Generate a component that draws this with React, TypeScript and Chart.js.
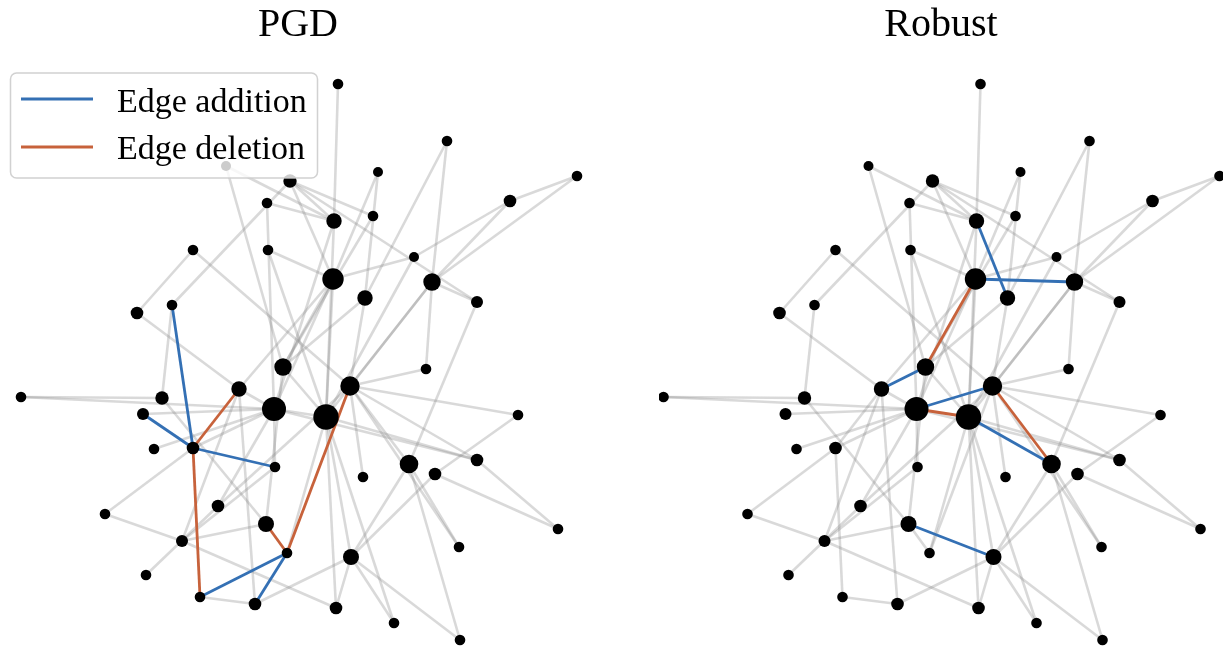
import React, { useEffect, useRef } from 'react';
import { Chart, registerables } from 'chart.js';

Chart.register(...registerables);

// Node layout (shared by both panels)
const nodeX = [338, 447, 226, 378, 577, 290, 510, 267, 334, 373, 193, 268, 414, 333, 432, 365, 477, 172, 137, 283, 426, 350, 239, 21, 162, 274, 143, 326, 518, 193, 154, 409, 477, 275, 435, 363, 105, 218, 266, 558, 182, 459, 287, 351, 146, 336, 200, 255, 394, 460];
const nodeY = [84, 141, 166, 172, 176, 181, 201, 203, 221, 216, 250, 250, 257, 279, 282, 298, 302, 305, 313, 367, 369, 386, 389, 397, 398, 409, 414, 417, 415, 448, 449, 464, 460, 467, 474, 477, 514, 506, 524, 529, 541, 547, 553, 557, 575, 608, 597, 604, 623, 640];
const nodeRadius = [5.3, 5.3, 5, 5, 5.3, 6.7, 6.3, 5.3, 7.7, 5.3, 5.3, 5.3, 5, 10.7, 8.7, 7.7, 6, 5.3, 6.3, 8.7, 5.3, 9.7, 7.7, 5.3, 6.7, 12, 6, 12.7, 5.3, 6.3, 5.3, 9.3, 6.3, 5.3, 6.3, 5.3, 5.3, 6.3, 8, 5.3, 6, 5.3, 5.3, 8, 5.3, 6.3, 5.3, 6.3, 5.3, 5.3];

// Clean graph edges
const cleanEdges = [
  [0, 8], [1, 14], [14, 20], [1, 15], [2, 8], [2, 19], [3, 13], [3, 15], [4, 6], [4, 14],
  [5, 17], [5, 9], [5, 8], [5, 16], [5, 13], [6, 12], [6, 14], [7, 8], [7, 25], [9, 19],
  [10, 18], [10, 21], [11, 13], [11, 27], [12, 13], [12, 27], [14, 16], [14, 21], [14, 27],
  [15, 21], [15, 19], [16, 31], [17, 24], [18, 22],
  [22, 29], [29, 46], [38, 42], [21, 42], [13, 19], [25, 27], [21, 31],
  [23, 24], [23, 25], [24, 38], [25, 26], [25, 30], [25, 29], [29, 36], [36, 40], [38, 40],
  [37, 44], [21, 37], [25, 37], [46, 47], [22, 47], [43, 47], [27, 42],
  [20, 21], [21, 28], [21, 32], [21, 35], [21, 41], [27, 43], [27, 48], [43, 48], [43, 49],
  [43, 45], [27, 45], [40, 45], [31, 49], [31, 41], [31, 43], [32, 39], [34, 39], [28, 34], [34, 43],
  [27, 32], [8, 25], [8, 27], [13, 25], [13, 27], [13, 22], [19, 27], [19, 38], [22, 25], [25, 33],
  [25, 32], [22, 40], [33, 40],
];

// Perturbations
const pgdAdded = [[17, 29], [26, 29], [29, 33], [42, 46], [42, 47]];
const pgdDeleted = [[22, 29], [29, 46], [38, 42], [21, 42]];
const robustAdded = [[8, 15], [13, 14], [19, 22], [21, 25], [27, 31], [38, 43]];
const robustDeleted = [[13, 19], [25, 27], [21, 31]];

const panelTitles = ['PGD', 'Robust'];
const legendLabels = ['Edge addition', 'Edge deletion'];

const GRAY = 'rgba(128,128,128,0.3)';
const BLUE = '#3470b4';
const ORANGE = '#c7623b';
const SERIF = '"Liberation Serif", "Times New Roman", serif';

const key = (a: number, b: number) => (a < b ? `${a}-${b}` : `${b}-${a}`);

function buildDatasets(added: number[][], deleted: number[][]) {
  const del = new Set(deleted.map(([a, b]) => key(a, b)));
  const seg = (a: number, b: number) => [
    { x: nodeX[a], y: nodeY[a] },
    { x: nodeX[b], y: nodeY[b] },
  ];
  const ds: any[] = [];
  cleanEdges
    .filter(([a, b]) => !del.has(key(a, b)))
    .forEach(([a, b]) =>
      ds.push({ data: seg(a, b), showLine: true, borderColor: GRAY, borderWidth: 2.6, pointRadius: 0, order: 3, clip: false })
    );
  added.forEach(([a, b]) =>
    ds.push({ label: legendLabels[0], data: seg(a, b), showLine: true, borderColor: BLUE, borderWidth: 2.8, pointRadius: 0, order: 2, clip: false })
  );
  deleted.forEach(([a, b]) =>
    ds.push({ label: legendLabels[1], data: seg(a, b), showLine: true, borderColor: ORANGE, borderWidth: 2.8, pointRadius: 0, order: 2, clip: false })
  );
  ds.push({
    data: nodeX.map((x, i) => ({ x, y: nodeY[i] })),
    pointRadius: nodeRadius,
    pointBackgroundColor: '#000',
    pointBorderWidth: 0,
    backgroundColor: '#000',
    borderColor: '#000',
    order: 1,
    clip: false,
  });
  return ds;
}

const legendPlugin = {
  id: 'edgeLegend',
  afterDraw(chart: any) {
    const ctx = chart.ctx;
    ctx.save();
    const x = 10.5, y = 73, w = 307, h = 105, r = 6;
    ctx.beginPath();
    ctx.moveTo(x + r, y);
    ctx.lineTo(x + w - r, y);
    ctx.arcTo(x + w, y, x + w, y + r, r);
    ctx.lineTo(x + w, y + h - r);
    ctx.arcTo(x + w, y + h, x + w - r, y + h, r);
    ctx.lineTo(x + r, y + h);
    ctx.arcTo(x, y + h, x, y + h - r, r);
    ctx.lineTo(x, y + r);
    ctx.arcTo(x, y, x + r, y, r);
    ctx.closePath();
    ctx.fillStyle = 'rgba(255,255,255,0.8)';
    ctx.fill();
    ctx.strokeStyle = 'rgba(204,204,204,0.9)';
    ctx.lineWidth = 1.5;
    ctx.stroke();
    const colors = [BLUE, ORANGE];
    const lineY = [99, 147];
    const textY = [112, 159];
    legendLabels.forEach((label, i) => {
      ctx.beginPath();
      ctx.moveTo(21, lineY[i]);
      ctx.lineTo(93, lineY[i]);
      ctx.strokeStyle = colors[i];
      ctx.lineWidth = 3;
      ctx.stroke();
      ctx.fillStyle = '#000';
      ctx.font = `34px ${SERIF}`;
      ctx.textBaseline = 'alphabetic';
      ctx.textAlign = 'left';
      ctx.fillText(label, 117, textY[i]);
    });
    ctx.restore();
  },
};

function Panel(props: { title: string; added: number[][]; deleted: number[][]; left: number; width: number; xMin: number; legend: boolean }) {
  const ref = useRef<HTMLCanvasElement>(null);
  useEffect(() => {
    const canvas = ref.current;
    if (!canvas) return;
    const chart = new Chart(canvas, {
      type: 'scatter',
      data: { datasets: buildDatasets(props.added, props.deleted) },
      options: {
        responsive: false,
        animation: false,
        events: [],
        layout: { padding: 0, autoPadding: false },
        scales: {
          x: { type: 'linear', display: false, min: props.xMin, max: props.xMin + props.width },
          y: { type: 'linear', display: false, min: 56, max: 647, reverse: true },
        },
        plugins: {
          legend: { display: false },
          tooltip: { enabled: false },
          title: {
            display: true,
            text: props.title,
            color: '#000',
            font: { family: SERIF, size: 40, weight: 'normal' },
            padding: { top: 1, bottom: 7 },
          },
        },
      },
      plugins: props.legend ? [legendPlugin] : [],
    } as any);
    return () => chart.destroy();
  }, []);
  return (
    <canvas
      ref={ref}
      width={props.width}
      height={647}
      style={{ position: 'absolute', left: props.left, top: 0, width: props.width, height: 647, display: 'block' }}
    />
  );
}

export default function App() {
  return (
    <div style={{ position: 'absolute', left: 0, top: 0, width: 1223, height: 647, background: '#fff', overflow: 'hidden' }}>
      <Panel title={panelTitles[0]} added={pgdAdded} deleted={pgdDeleted} left={0} width={596} xMin={0} legend={true} />
      <Panel title={panelTitles[1]} added={robustAdded} deleted={robustDeleted} left={659} width={564} xMin={16.5} legend={false} />
    </div>
  );
}
